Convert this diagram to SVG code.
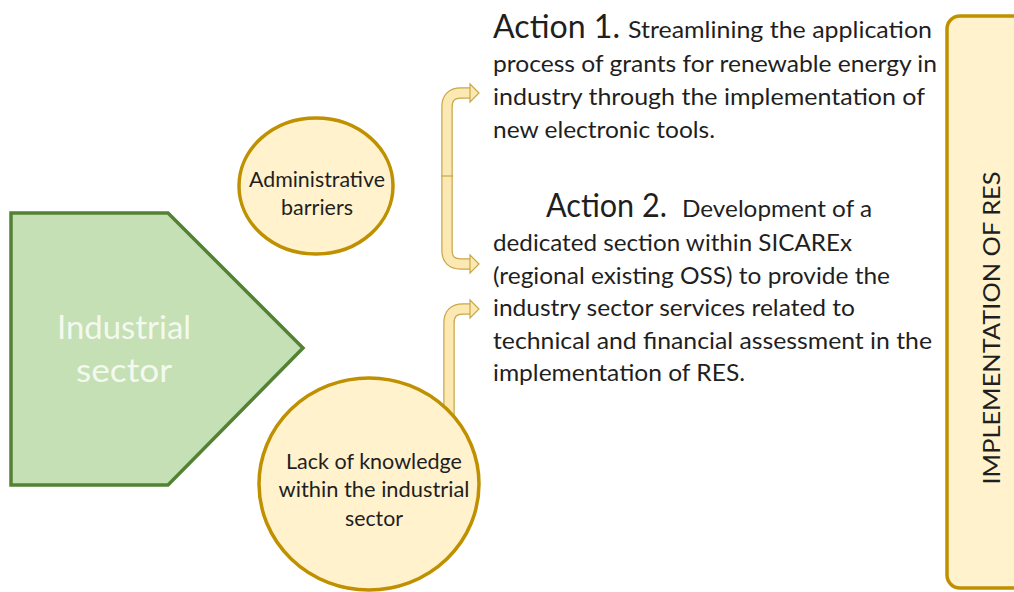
<svg xmlns="http://www.w3.org/2000/svg" width="1014" height="592" viewBox="0 0 1014 592">
<style>
  .t { font-family: Lato, "Open Sans", "Liberation Sans", sans-serif; fill: #1f1f1f; }
  .body { font-size: 22.5px; }
  .head { font-size: 33px; }
  .node { font-size: 20.5px; text-anchor: middle; }
  .band-o { fill: none; stroke: #c9a847; stroke-width: 11.5; }
  .band-i { fill: none; stroke: #fce8b2; stroke-width: 9; }
  .head-a { fill: #fce8b2; stroke: #c9a847; stroke-width: 1.2; stroke-linejoin: miter; }
  .circ { fill: #fff2cc; stroke: #bf9000; stroke-width: 3.5; }
</style>
<rect width="1014" height="592" fill="#ffffff"/>

<g id="connectors">
  <!-- upper bracket: to Action 1 -->
  <path class="band-o" d="M447 177 V107 Q447 93 461 93 H472"/>
  <path class="band-i" d="M447 177 V107 Q447 93 461 93 H472"/>
  <polygon class="head-a" points="470,84 479,93 470,102"/>
  <!-- upper bracket: to Action 2 -->
  <path class="band-o" d="M447 175 V250 Q447 264 461 264 H472"/>
  <path class="band-i" d="M447 175 V250 Q447 264 461 264 H472"/>
  <polygon class="head-a" points="470,255 479,264 470,273"/>
  <line x1="442" y1="176" x2="452" y2="176" stroke="#c9a847" stroke-width="1.2"/>
  <!-- lower arrow: to Action 2 -->
  <path class="band-o" d="M449 420 V323 Q449 309 463 309 H472"/>
  <path class="band-i" d="M449 420 V323 Q449 309 463 309 H472"/>
  <polygon class="head-a" points="470,300 479,309 470,318"/>
</g>

<g id="industrial-sector">
  <polygon points="11,213 168,213 303,348 168,485 11,485" fill="#c5e0b4" stroke="#548235" stroke-width="3.5" stroke-linejoin="miter"/>
  <text class="t" x="124" y="339" font-size="32" text-anchor="middle" textLength="134" lengthAdjust="spacingAndGlyphs" style="fill:#f4f9f0">Industrial</text>
  <text class="t" x="124" y="382" font-size="32" text-anchor="middle" textLength="96" lengthAdjust="spacingAndGlyphs" style="fill:#f4f9f0">sector</text>
</g>

<g id="administrative-barriers">
  <ellipse class="circ" cx="316" cy="186" rx="77" ry="68"/>
  <text class="t node" x="317" y="187" textLength="136" lengthAdjust="spacingAndGlyphs">Administrative</text>
  <text class="t node" x="317" y="215" textLength="72" lengthAdjust="spacingAndGlyphs">barriers</text>
</g>

<g id="lack-of-knowledge">
  <ellipse class="circ" cx="369" cy="484" rx="110" ry="106"/>
  <text class="t node" x="374" y="469" textLength="176" lengthAdjust="spacingAndGlyphs">Lack of knowledge</text>
  <text class="t node" x="374" y="497" textLength="191" lengthAdjust="spacingAndGlyphs">within the industrial</text>
  <text class="t node" x="374" y="526" textLength="58" lengthAdjust="spacingAndGlyphs">sector</text>
</g>

<g id="action-1">
  <text class="t head" x="493" y="38" textLength="127" lengthAdjust="spacingAndGlyphs">Action 1.</text>
  <text class="t body" x="628" y="38" textLength="304" lengthAdjust="spacingAndGlyphs">Streamlining the application</text>
  <text class="t body" x="493" y="72" textLength="444" lengthAdjust="spacingAndGlyphs">process of grants for renewable energy in</text>
  <text class="t body" x="493" y="105" textLength="432" lengthAdjust="spacingAndGlyphs">industry through the implementation of</text>
  <text class="t body" x="493" y="138" textLength="222" lengthAdjust="spacingAndGlyphs">new electronic tools.</text>
</g>

<g id="action-2">
  <text class="t head" x="546" y="217" textLength="121" lengthAdjust="spacingAndGlyphs">Action 2.</text>
  <text class="t body" x="682" y="217" textLength="190" lengthAdjust="spacingAndGlyphs">Development of a</text>
  <text class="t body" x="493" y="251" textLength="359" lengthAdjust="spacingAndGlyphs">dedicated section within SICAREx</text>
  <text class="t body" x="493" y="284" textLength="397" lengthAdjust="spacingAndGlyphs">(regional existing OSS) to provide the</text>
  <text class="t body" x="493" y="316" textLength="362" lengthAdjust="spacingAndGlyphs">industry sector services related to</text>
  <text class="t body" x="493" y="349" textLength="439" lengthAdjust="spacingAndGlyphs">technical and financial assessment in the</text>
  <text class="t body" x="493" y="381" textLength="252" lengthAdjust="spacingAndGlyphs">implementation of RES.</text>
</g>

<g id="implementation-of-res">
  <rect x="947" y="16" width="100" height="572" rx="13" fill="#fff2cc" stroke="#bf9000" stroke-width="3.5"/>
  <text class="t" transform="translate(1000 328) rotate(-90)" font-size="24" text-anchor="middle" textLength="313" lengthAdjust="spacingAndGlyphs">IMPLEMENTATION OF RES</text>
</g>
</svg>
